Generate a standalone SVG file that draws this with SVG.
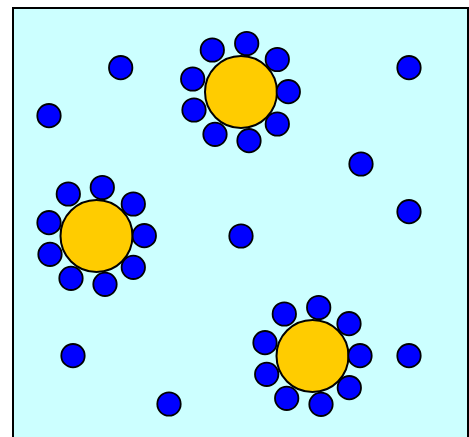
<svg xmlns="http://www.w3.org/2000/svg" width="469" height="437" viewBox="0 0 469 437">
<style>
.bg{fill:#CCFFFF;stroke:#000;stroke-width:2}
.big{fill:#FFCC00;stroke:#000;stroke-width:2}
.s{fill:#0000FF;stroke:#000;stroke-width:1.8}
</style>
<rect class="bg" x="13" y="8" width="455" height="440"/>
<g id="cluster1">
<circle class="big" cx="241" cy="92" r="36"/>
<circle class="s" cx="212.3" cy="50" r="11.7"/>
<circle class="s" cx="246.7" cy="43.5" r="11.7"/>
<circle class="s" cx="277.3" cy="59.5" r="11.7"/>
<circle class="s" cx="288.3" cy="91.7" r="11.7"/>
<circle class="s" cx="277.3" cy="124" r="11.7"/>
<circle class="s" cx="249" cy="140.7" r="11.7"/>
<circle class="s" cx="215" cy="134.3" r="11.7"/>
<circle class="s" cx="194" cy="110" r="11.7"/>
<circle class="s" cx="192.7" cy="79" r="11.7"/>
</g>
<g id="cluster2">
<circle class="big" cx="96.5" cy="236" r="36"/>
<circle class="s" cx="68.3" cy="194" r="11.7"/>
<circle class="s" cx="102.3" cy="187.5" r="11.7"/>
<circle class="s" cx="133.3" cy="204" r="11.7"/>
<circle class="s" cx="144.3" cy="235.7" r="11.7"/>
<circle class="s" cx="133.3" cy="267.3" r="11.7"/>
<circle class="s" cx="105" cy="284.3" r="11.7"/>
<circle class="s" cx="71" cy="278.3" r="11.7"/>
<circle class="s" cx="50" cy="254.3" r="11.7"/>
<circle class="s" cx="49" cy="222.7" r="11.7"/>
</g>
<g id="cluster3">
<circle class="big" cx="312.5" cy="356" r="36"/>
<circle class="s" cx="284.3" cy="314" r="11.7"/>
<circle class="s" cx="318.7" cy="307.5" r="11.7"/>
<circle class="s" cx="349" cy="323.7" r="11.7"/>
<circle class="s" cx="360" cy="355.7" r="11.7"/>
<circle class="s" cx="349.3" cy="387.7" r="11.7"/>
<circle class="s" cx="321" cy="404.3" r="11.7"/>
<circle class="s" cx="286.7" cy="398.3" r="11.7"/>
<circle class="s" cx="266.7" cy="374.3" r="11.7"/>
<circle class="s" cx="265" cy="342.7" r="11.7"/>
</g>
<g id="scattered">
<circle class="s" cx="120.7" cy="67.7" r="11.7"/>
<circle class="s" cx="49" cy="115.7" r="11.7"/>
<circle class="s" cx="361" cy="164" r="11.7"/>
<circle class="s" cx="409" cy="67.7" r="11.7"/>
<circle class="s" cx="409" cy="211.7" r="11.7"/>
<circle class="s" cx="241" cy="236" r="11.7"/>
<circle class="s" cx="73" cy="355.7" r="11.7"/>
<circle class="s" cx="169" cy="404" r="11.7"/>
<circle class="s" cx="409" cy="355.7" r="11.7"/>
</g>
</svg>
